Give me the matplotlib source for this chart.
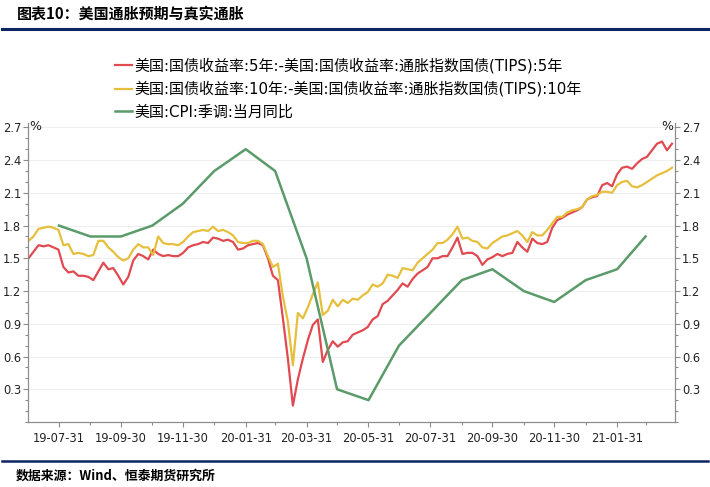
import pandas as pd
import numpy as np
import matplotlib
matplotlib.use('Agg')
import matplotlib.pyplot as plt
import matplotlib.dates as mdates
from matplotlib.ticker import FixedLocator, MultipleLocator, FormatStrFormatter
from matplotlib.lines import Line2D

plt.rcParams['font.family'] = ['DejaVu Sans', 'Noto Sans CJK SC']

# breakeven series (evenly spaced between start and end)
be_start = '2019-07-01'
be_end = '2021-03-26'
be_5y = [1.50, 1.56, 1.62, 1.61, 1.62, 1.60, 1.58, 1.42, 1.37, 1.38,
         1.34, 1.34, 1.33, 1.30, 1.38, 1.46, 1.40, 1.41, 1.34, 1.26,
         1.33, 1.48, 1.54, 1.52, 1.49, 1.58, 1.54, 1.52, 1.53, 1.52,
         1.52, 1.55, 1.60, 1.62, 1.63, 1.65, 1.64, 1.69, 1.68, 1.66,
         1.67, 1.65, 1.58, 1.59, 1.62, 1.63, 1.64, 1.62, 1.50, 1.34,
         1.30, 0.95, 0.58, 0.15, 0.39, 0.58, 0.75, 0.89, 0.94, 0.55,
         0.66, 0.74, 0.69, 0.73, 0.74, 0.80, 0.82, 0.84, 0.87, 0.94,
         0.97, 1.08, 1.11, 1.16, 1.21, 1.27, 1.24, 1.31, 1.36, 1.39,
         1.42, 1.50, 1.50, 1.52, 1.52, 1.60, 1.69, 1.54, 1.55, 1.55,
         1.52, 1.44, 1.49, 1.51, 1.54, 1.52, 1.54, 1.55, 1.65, 1.60,
         1.56, 1.68, 1.64, 1.63, 1.65, 1.78, 1.85, 1.87, 1.90, 1.92,
         1.94, 1.97, 2.04, 2.06, 2.07, 2.17, 2.19, 2.16, 2.27, 2.33,
         2.34, 2.32, 2.37, 2.41, 2.43, 2.49, 2.55, 2.57, 2.49, 2.55]
be_10y = [1.66, 1.70, 1.77, 1.78, 1.79, 1.78, 1.76, 1.62, 1.63, 1.54,
          1.55, 1.54, 1.52, 1.53, 1.66, 1.66, 1.60, 1.56, 1.51, 1.48,
          1.50, 1.58, 1.63, 1.60, 1.60, 1.53, 1.70, 1.64, 1.63, 1.63,
          1.62, 1.65, 1.70, 1.74, 1.75, 1.76, 1.75, 1.79, 1.75, 1.76,
          1.74, 1.71, 1.65, 1.64, 1.64, 1.66, 1.66, 1.63, 1.52, 1.42,
          1.45, 1.15, 0.92, 0.52, 1.00, 0.95, 1.05, 1.17, 1.28, 0.98,
          1.02, 1.12, 1.06, 1.12, 1.09, 1.13, 1.12, 1.16, 1.19, 1.26,
          1.24, 1.27, 1.35, 1.34, 1.32, 1.41, 1.40, 1.39, 1.46, 1.50,
          1.54, 1.58, 1.64, 1.64, 1.67, 1.72, 1.79, 1.68, 1.69, 1.66,
          1.65, 1.60, 1.59, 1.64, 1.67, 1.70, 1.71, 1.73, 1.75, 1.71,
          1.65, 1.74, 1.71, 1.71, 1.76, 1.82, 1.88, 1.88, 1.92, 1.94,
          1.95, 1.97, 2.04, 2.07, 2.08, 2.11, 2.11, 2.10, 2.17, 2.20,
          2.21, 2.16, 2.15, 2.17, 2.20, 2.23, 2.26, 2.28, 2.30, 2.33]

# CPI yoy, monthly from 2019-07 (month end)
cpi_start = '2019-07-31'
cpi = [1.8, 1.7, 1.7, 1.8, 2.0, 2.3, 2.5, 2.3, 1.5, 0.3,
       0.2, 0.7, 1.0, 1.3, 1.4, 1.2, 1.1, 1.3, 1.4, 1.7]

yticks = [0.3, 0.6, 0.9, 1.2, 1.5, 1.8, 2.1, 2.4, 2.7]

labels = ['美国:国债收益率:5年:-美国:国债收益率:通胀指数国债(TIPS):5年',
          '美国:国债收益率:10年:-美国:国债收益率:通胀指数国债(TIPS):10年',
          '美国:CPI:季调:当月同比']
colors = ['#e04a50', '#e6bf3c', '#5a9b69']

be_dates = pd.date_range(be_start, be_end, periods=len(be_5y))
cpi_dates = pd.date_range(cpi_start, periods=len(cpi), freq=pd.offsets.MonthEnd())

fig = plt.figure(figsize=(7.10, 4.87), dpi=100)
ax = fig.add_axes([28 / 710, 65 / 487, 647 / 710, 299 / 487])

ax.plot(be_dates, be_5y, color=colors[0], lw=1.6, label=labels[0])
ax.plot(be_dates, be_10y, color=colors[1], lw=1.6, label=labels[1])
ax.plot(cpi_dates, cpi, color=colors[2], lw=1.8, label=labels[2])

ax.set_xlim(pd.Timestamp('2019-06-30 12:00'), pd.Timestamp('2021-03-29'))
ax.set_ylim(0.0, 2.74)

ax.xaxis.set_major_locator(mdates.MonthLocator(bymonth=[1, 3, 5, 7, 9, 11], bymonthday=-1))
ax.xaxis.set_minor_locator(mdates.MonthLocator(bymonth=[2, 4, 6, 8, 10, 12], bymonthday=-1))
ax.xaxis.set_major_formatter(mdates.DateFormatter('%y-%m-%d'))

ax.yaxis.set_major_locator(FixedLocator(yticks))
ax.yaxis.set_minor_locator(MultipleLocator(0.1))
ax.yaxis.set_major_formatter(FormatStrFormatter('%.1f'))
ax.grid(axis='y', color='#efefef', lw=0.8)
ax.set_axisbelow(True)

ax2 = ax.twinx()
ax2.set_ylim(ax.get_ylim())
ax2.yaxis.set_major_locator(FixedLocator(yticks))
ax2.yaxis.set_minor_locator(MultipleLocator(0.1))
ax2.yaxis.set_major_formatter(FormatStrFormatter('%.1f'))

spine_col = '#8c8c8c'
for a in (ax, ax2):
    a.spines['top'].set_visible(False)
    for s in ('left', 'right', 'bottom'):
        a.spines[s].set_color(spine_col)
    a.tick_params(which='both', direction='out', color=spine_col, labelsize=8.3,
                  labelcolor='#222222', width=0.8)
    a.tick_params(which='major', length=3.5, pad=1.5)
    a.tick_params(which='minor', length=2.5)
ax.tick_params(axis='x', pad=4)

fig.text(29 / 710, 1 - 126 / 487, '%', fontsize=9, ha='left', va='center', color='#222222')
fig.text(673 / 710, 1 - 126 / 487, '%', fontsize=9, ha='right', va='center', color='#222222')

fig.legend(loc='upper left', bbox_to_anchor=(115 / 710, 1 - 58 / 487), frameon=False,
           fontsize=10.8, handlelength=1.15, handletextpad=0.15, labelspacing=0.5,
           borderpad=0, borderaxespad=0)

# title and footer
fig.text(17 / 710, 1 - 14 / 487, '图表10：美国通胀预期与真实通胀', fontsize=10.8,
         fontweight='bold', family=['Noto Sans CJK SC'], ha='left', va='center')
fig.add_artist(Line2D([2 / 710, 708 / 710], [1 - 29 / 487, 1 - 29 / 487],
                      color='#0c2461', lw=2.2, transform=fig.transFigure))
fig.add_artist(Line2D([2 / 710, 708 / 710], [1 - 461 / 487, 1 - 461 / 487],
                      color='#0c2461', lw=1.8, transform=fig.transFigure))
fig.text(16 / 710, 1 - 476 / 487, '数据来源：Wind、恒泰期货研究所', fontsize=9.3,
         fontweight='bold', family=['Noto Sans CJK SC'], ha='left', va='center')

fig.savefig('out.png', dpi=100)
